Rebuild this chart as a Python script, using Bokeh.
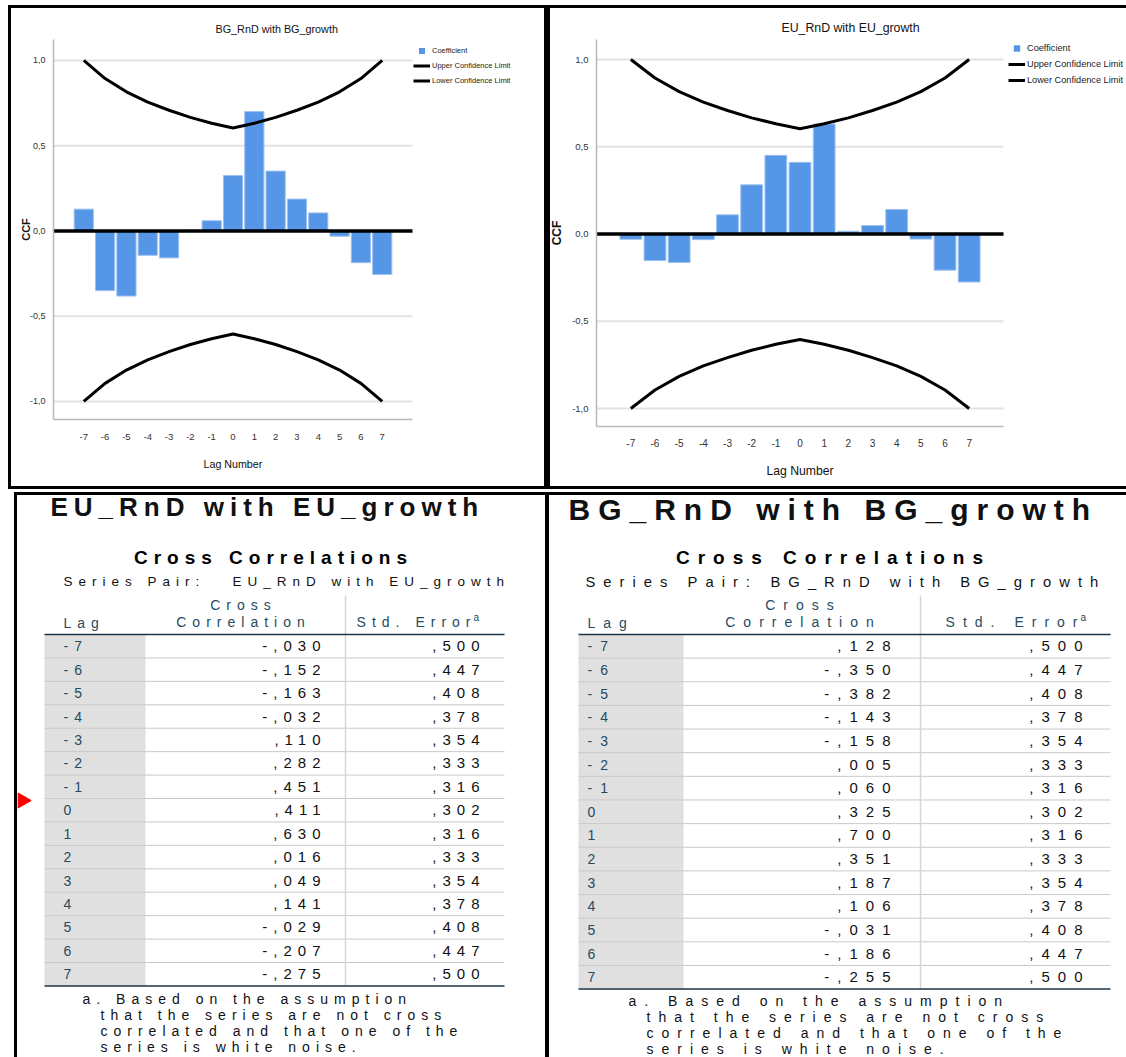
from bokeh.plotting import figure
from bokeh.models import (Range1d, FixedTicker, CustomJSTickFormatter, Legend, LegendItem,
                          Title)
from bokeh.layouts import column, row
from bokeh.embed import file_html
from bokeh.resources import INLINE
from bokeh.core.properties import value

# ---------------- data ----------------
lags = [-7, -6, -5, -4, -3, -2, -1, 0, 1, 2, 3, 4, 5, 6, 7]
bg_ccf = [0.128, -0.350, -0.382, -0.143, -0.158, 0.005, 0.060, 0.325,
          0.700, 0.351, 0.187, 0.106, -0.031, -0.186, -0.255]
eu_ccf = [-0.030, -0.152, -0.163, -0.032, 0.110, 0.282, 0.451, 0.411,
          0.630, 0.016, 0.049, 0.141, -0.029, -0.207, -0.275]
std_err = [0.500, 0.447, 0.408, 0.378, 0.354, 0.333, 0.316, 0.302,
           0.316, 0.333, 0.354, 0.378, 0.408, 0.447, 0.500]
y_ticks = [-1.0, -0.5, 0.0, 0.5, 1.0]
upper_cl = [2 * s for s in std_err]
lower_cl = [-2 * s for s in std_err]

BAR = "#5596e6"
FONT = "Liberation Sans"
X0, X1 = -8.42, 8.42


def make_chart(title, ccf, W, pw, fh, bl, bt, bb, yr, fs, css, title_off, title_so,
               ylab_so, xtick_so, xlab_off, xlab_so, leg_loc, margin):
    # the frame is widened to the right so the legend (drawn inside it) is not clipped;
    # the plotted area itself spans pw pixels for the lag range X0..X1
    fw = W - bl - 4
    x_end = X0 + fw * (X1 - X0) / pw
    p = figure(frame_width=fw, frame_height=fh, x_range=Range1d(X0, x_end),
               y_range=Range1d(*yr), output_backend="svg", toolbar_location=None,
               min_border_left=bl, min_border_right=4, min_border_top=bt,
               min_border_bottom=bb, margin=margin)
    p.border_fill_color = None
    p.background_fill_color = None
    p.outline_line_color = None
    p.styles = {"box-shadow": css}

    p.title.text = title
    p.title.text_font = FONT
    p.title.text_font_style = "normal"
    p.title.text_font_size = fs["title"]
    p.title.text_color = "#111111"
    p.title.align = "left"
    p.title.offset = title_off
    p.title.standoff = title_so

    p.grid.visible = False
    gy = [t for t in y_ticks if t != 0]
    p.segment(x0=[X0] * len(gy), x1=[X1] * len(gy), y0=gy, y1=gy,
              line_color="#e2e2e2", line_width=2)
    p.vbar(x=lags, top=ccf, width=0.9, fill_color=BAR, line_color="#9cc1f0", line_width=1)
    p.segment(x0=[X0], x1=[X1], y0=[0], y1=[0], line_color="black", line_width=3.5)
    up = p.line(lags, upper_cl, line_color="black", line_width=3)
    lo = p.line(lags, lower_cl, line_color="black", line_width=3)
    # legend swatch for the coefficient bars (markers are sub-pixel, so invisible in the plot)
    coef = p.scatter(x=lags, y=ccf, marker="square", size=0.01, fill_color=BAR,
                     line_color=None)

    p.xaxis.ticker = FixedTicker(ticks=lags)
    p.xaxis.formatter = CustomJSTickFormatter(code="return tick.toFixed(0)")
    p.xaxis.bounds = (X0, X1)
    p.yaxis.ticker = FixedTicker(ticks=y_ticks)
    p.yaxis.formatter = CustomJSTickFormatter(code="return tick.toFixed(1).replace('.', ',')")
    for ax in (p.xaxis[0], p.yaxis[0]):
        ax.major_tick_line_color = None
        ax.minor_tick_line_color = None
        ax.axis_line_color = "#b8b8b8"
        ax.axis_line_width = 1.5
        ax.major_label_text_font = FONT
        ax.major_label_text_color = "#333333"
        ax.axis_label_text_font = FONT
        ax.axis_label_text_color = "#111111"
    p.xaxis.major_label_text_font_size = fs["xtick"]
    p.yaxis.major_label_text_font_size = fs["ytick"]
    p.xaxis.major_label_standoff = xtick_so
    p.yaxis.major_label_standoff = 2
    p.yaxis.axis_label = "CCF"
    p.yaxis.axis_label_text_font_style = "bold"
    p.yaxis.axis_label_text_font_size = fs["ylab"]
    p.yaxis.axis_label_standoff = ylab_so
    # x-axis title, centred under the lag range (not under the widened frame)
    p.add_layout(Title(text="Lag Number", align="left", offset=xlab_off, standoff=xlab_so,
                       text_font=FONT, text_font_style="normal", text_font_size=fs["xlab"],
                       text_color="#111111"), "below")

    leg = Legend(items=[LegendItem(label="Coefficient", renderers=[coef]),
                        LegendItem(label="Upper Confidence Limit", renderers=[up]),
                        LegendItem(label="Lower Confidence Limit", renderers=[lo])],
                 location=leg_loc)
    leg.margin = 0
    leg.padding = 0
    leg.spacing = 0
    leg.glyph_width = 17
    leg.glyph_height = fs["leg_h"]
    leg.label_height = fs["leg_h"]
    leg.label_standoff = 2
    leg.label_text_font = FONT
    leg.label_text_font_size = fs["leg"]
    leg.label_text_color = "#222222"
    leg.border_line_color = None
    leg.background_fill_alpha = 0
    p.add_layout(leg)
    return p


def fmt(v):
    s = f"{abs(v):.3f}"[1:].replace(".", ",")
    return ("-" if v < 0 else "") + s


def make_table(title, pair, ccf, W, H, g, css, ls, margin):
    p = figure(width=W, height=H, x_range=Range1d(0, W), y_range=Range1d(H, 0),
               x_axis_type=None, y_axis_type=None, output_backend="svg",
               toolbar_location=None, min_border=0, margin=margin)
    p.grid.visible = False
    p.outline_line_color = None
    p.background_fill_color = None
    p.border_fill_color = None
    p.styles = {"box-shadow": css, "letter-spacing": f"{ls}px"}

    # letter-spacing is added by the browser after Bokeh aligns the text,
    # so right / centre alignment is corrected here
    def rx(x, s):
        return x - ls * (len(s) - 1)

    def cx(x, s):
        return x - ls * (len(s) - 1) / 2

    n = len(lags)
    dy = g["dy"]
    hl = g["hline"]
    bots = [hl + dy * (i + 1) for i in range(n)]
    mids = [hl + dy * (i + 0.5) for i in range(n)]
    p.quad(left=[g["x0"]], right=[g["shade1"]], top=[hl], bottom=[bots[-1]],
           fill_color="#e0e0e0", line_color=None)
    p.segment(x0=[g["x0"]] * (n - 1), x1=[g["x1"]] * (n - 1), y0=bots[:-1], y1=bots[:-1],
              line_color="#c9c9c9", line_width=1)
    p.segment(x0=[g["vsep"]], x1=[g["vsep"]], y0=[g["vtop"]], y1=[bots[-1]],
              line_color="#d6d6d6", line_width=1.5)
    p.segment(x0=[g["x0"]] * 2, x1=[g["x1"]] * 2, y0=[hl, bots[-1]], y1=[hl, bots[-1]],
              line_color="#1c3447", line_width=1.5)

    p.text(x=[g["title_x"]], y=[g["title_y"]], text=[title], text_font=value(FONT),
           text_font_style="bold", text_font_size=g["title_fs"], text_color="#111111",
           text_align="left", text_baseline="middle")
    cc = "Cross Correlations"
    p.text(x=[cx(g["cc_x"], cc)], y=[g["cc_y"]], text=[cc], text_font=value(FONT),
           text_font_style="bold", text_font_size="19px", text_color="#000000",
           text_align="center", text_baseline="middle")
    p.text(x=[g["sp_x"], g["sp_x2"]], y=[g["sp_y"]] * 2, text=["Series Pair:", pair],
           text_font=value(FONT), text_font_size=g["sp_fs"], text_color="#111111",
           text_align="left", text_baseline="middle")
    hc = "#264a60"
    p.text(x=[g["lag_x"]], y=[hl - 12], text=["Lag"], text_font=value(FONT),
           text_font_size="14px", text_color=hc, text_align="left", text_baseline="middle")
    hdr = ["Cross", "Correlation"]
    p.text(x=[cx(g["cc_hdr"], s) for s in hdr], y=[hl - 30, hl - 13], text=hdr,
           text_font=value(FONT), text_font_size="14px", text_color=hc,
           text_align="center", text_baseline="middle")
    se = "Std. Error"
    p.text(x=[rx(g["se_hdr"], se)], y=[hl - 13], text=[se], text_font=value(FONT),
           text_font_size="14px", text_color=hc, text_align="right", text_baseline="middle")
    p.text(x=[g["se_hdr"] + 3], y=[hl - 17], text=["a"], text_font=value(FONT),
           text_font_size="10px", text_color=hc, text_align="left", text_baseline="middle")

    lag_txt = [str(l) for l in lags]
    val_txt = [fmt(v) for v in ccf]
    se_txt = [fmt(v) for v in std_err]
    p.text(x=[g["lag_x"]] * n, y=mids, text=lag_txt, text_font=value(FONT),
           text_font_size="14px", text_color=hc, text_align="left", text_baseline="middle")
    p.text(x=[rx(g["val_x"], s) for s in val_txt], y=mids, text=val_txt, text_font=value(FONT),
           text_font_size="15px", text_color="#111111", text_align="right", text_baseline="middle")
    p.text(x=[rx(g["se_x"], s) for s in se_txt], y=mids, text=se_txt, text_font=value(FONT),
           text_font_size="15px", text_color="#111111", text_align="right", text_baseline="middle")

    foot = ["a. Based on the assumption", "that the series are not cross",
            "correlated and that one of the", "series is white noise."]
    fx = [g["fn_x"]] + [g["fn_x"] + 18] * 3
    fy = [g["fn_y"] + 16 * i for i in range(4)]
    p.text(x=fx, y=fy, text=foot, text_font=value(FONT), text_font_size="14px",
           text_color="#111111", text_align="left", text_baseline="middle")
    return p


chart_bg = make_chart("BG_RnD with BG_growth", bg_ccf, 539, 359, 380, 45, 34, 70,
                      (-1.106, 1.123),
                      {"title": "10.8px", "xtick": "9.5px", "ytick": "9px", "xlab": "10.7px",
                       "ylab": "11px", "leg": "7.5px", "leg_h": 15},
                      "inset 0 0 0 3px black", 162, 10, -5, 8, 150, 26, (360, 331),
                      (5, 0, 0, 8))
chart_eu = make_chart("EU_RnD with EU_growth", eu_ccf, 579, 407, 387, 48, 33, 64,
                      (-1.103, 1.115),
                      {"title": "12.3px", "xtick": "10px", "ytick": "9.5px", "xlab": "12.2px",
                       "ylab": "12px", "leg": "9.2px", "leg_h": 16},
                      "inset 3px 3px 0 0 black, inset 0 -3px 0 0 black", 185, 9, 5, 6, 170, 25,
                      (412, 338), (5, 0, 0, 0))

g_eu = dict(dy=23.43, hline=142, x0=30, x1=490, shade1=131, vsep=331, vtop=103,
            title_x=36, title_y=14, title_fs="26px", cc_x=256, cc_y=65,
            sp_x=49, sp_x2=218, sp_y=89, sp_fs="13.5px",
            lag_x=49, cc_hdr=226, se_hdr=456, val_x=306, se_x=465, fn_x=68, fn_y=506)
g_bg = dict(dy=23.64, hline=142, x0=31, x1=563, shade1=136, vsep=373, vtop=103,
            title_x=21, title_y=17, title_fs="30px", cc_x=282, cc_y=65,
            sp_x=38, sp_x2=223, sp_y=89, sp_fs="14.8px",
            lag_x=40, cc_hdr=252, se_hdr=530, val_x=343, se_x=535, fn_x=81, fn_y=508)

table_eu = make_table("EU_RnD with EU_growth", "EU_RnD with EU_growth", eu_ccf, 533, 565, g_eu,
                      "inset 3px 3px 0 0 black, inset -2px 0 0 0 black", 6, (0, 0, 0, 14))
table_bg = make_table("BG_RnD with BG_growth", "BG_RnD with BG_growth", bg_ccf, 579, 565, g_bg,
                      "inset 2px 3px 0 0 black", 8, (0, 0, 0, 0))

# red output marker
table_eu.scatter(x=[8], y=[308], marker="triangle", angle=-1.5708, size=15,
                 fill_color="red", line_color="red")

layout = column(row(chart_bg, chart_eu), row(table_eu, table_bg), spacing=3)

open("out.html", "w").write(file_html(layout, INLINE))
